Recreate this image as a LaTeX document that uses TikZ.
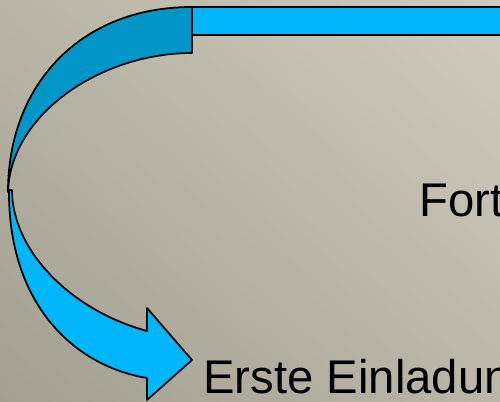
\documentclass[tikz,border=0pt]{standalone}
\usepackage{fontspec}
\setmainfont{Liberation Sans}
\usetikzlibrary{shadings}
\definecolor{bandlight}{RGB}{0,182,250}
\definecolor{banddark}{RGB}{0,150,200}
\definecolor{bgTL}{RGB}{184,181,166}
\definecolor{bgTR}{RGB}{207,204,189}
\definecolor{bgBL}{RGB}{162,159,144}
\definecolor{bgBR}{RGB}{186,183,168}
\tikzset{
  band/.style={draw=black, line width=1pt, line join=round},
  label/.style={inner sep=0pt, anchor=base west, font=\fontsize{26.9pt}{30pt}\selectfont}
}
\begin{document}
\begin{tikzpicture}[x=0.02cm, y=0.02cm]
\useasboundingbox (0,0) rectangle (500,402);
\clip (0,0) rectangle (500,402);
\shade[upper left=bgTL, upper right=bgTR, lower left=bgBL, lower right=bgBR] (0,0) rectangle (500,402);
% top bar
\path[band, fill=bandlight] (192,395) rectangle (520,367);
% light arrow going down
\path[band, fill=bandlight] (9,212) .. controls (8,102) and (70,37) .. (147,24)
  -- (147,2) -- (192,42) -- (147,94) -- (147,71)
  .. controls (70,92) and (12,152) .. (12,212) -- cycle;
% dark band at top left
\path[band, fill=banddark] (192,395) .. controls (80,395) and (8,317) .. (8,210)
  .. controls (10,287) and (100,349) .. (192,349) -- cycle;
\node[label] (fort) at (419,185) {Fort};
\node[label] (erste) at (203,9) {Erste Einladun};
\end{tikzpicture}
\end{document}
